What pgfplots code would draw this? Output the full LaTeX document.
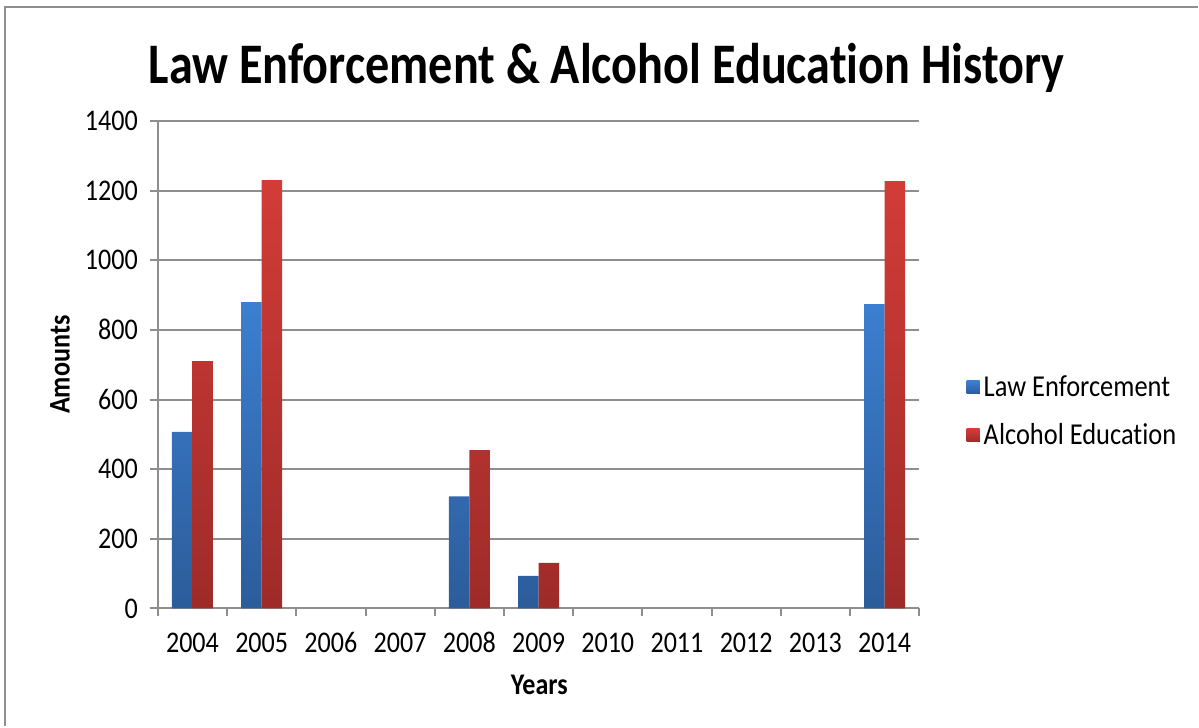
\documentclass[border=0pt]{standalone}
\usepackage{pgfplots}
\pgfplotsset{compat=1.18}
\usepackage{graphicx}
\usepackage{fontspec}
\setmainfont{Carlito}[Ligatures=NoCommon]
\newcommand\sq[1]{\scalebox{0.87}[1]{#1}}
\definecolor{gridc}{HTML}{8E8E8E}
\definecolor{btop}{HTML}{3C7FD0}
\definecolor{bbot}{HTML}{2C5C9A}
\definecolor{rtop}{HTML}{D23C37}
\definecolor{rbot}{HTML}{9E2B29}
\begin{document}
\begin{tikzpicture}
\path (0pt,0pt) rectangle (599.5pt,363.5pt);
\draw[gridc, line width=1pt] (2.5pt,0pt) -- (2.5pt,359.75pt) -- (599.5pt,359.75pt);
\node[anchor=base, font=\bfseries\fontsize{28.7}{34}\selectfont] at (303.5pt,321.5pt) {\scalebox{0.84}[1]{Law Enforcement \& Alcohol Education History}};
\begin{axis}[
  at={(79pt,59pt)}, anchor=south west, scale only axis,
  width=381pt, height=244pt,
  ybar=0pt, bar width=10.25pt,
  xmin=-0.5, xmax=10.5, ymin=0, ymax=1400,
  ytick={0,200,...,1400},
  xtick={-0.5,0.5,...,10.5}, xticklabels={},
  extra x ticks={0,1,...,10},
  extra x tick labels={\sq{2004},\sq{2005},\sq{2006},\sq{2007},\sq{2008},\sq{2009},\sq{2010},\sq{2011},\sq{2012},\sq{2013},\sq{2014}},
  extra x tick style={major tick length=0pt, grid=none, xticklabel style={text height=10pt, text depth=0pt, anchor=north, yshift=-8.5pt}},
  ymajorgrids, grid style={gridc, line width=1pt},
  axis x line*=bottom, axis y line*=left,
  axis line style={gridc, line width=1pt},
  tick style={gridc, line width=1pt},
  major tick length=4pt, tick align=outside,
  /pgf/number format/1000 sep={}, /pgf/number format/assume math mode=true,
  yticklabel={\sq{\pgfmathprintnumber{\tick}}},
  yticklabel style={xshift=-2.5pt},
  ticklabel style={font=\fontsize{15}{18}\selectfont},
  xlabel={\sq{Years}}, ylabel={\sq{Amounts}},
  label style={font=\bfseries\fontsize{15}{18}\selectfont},
  xlabel style={at={(axis description cs:0.501,-0.156)}, anchor=center},
  ylabel style={at={(axis description cs:-0.1286,0.5)}, anchor=center},
  legend style={at={(axis description cs:1.054,0.404)}, anchor=west, draw=none, fill=none,
    font=\fontsize{15.2}{18}\selectfont, row sep=8pt},
  legend cell align=left,
]
\addplot[draw=none, top color=btop, bottom color=bbot,
  legend image code/.code={\fill[top color=btop, bottom color=bbot] (0pt,-3.25pt) rectangle (6.5pt,3.25pt);}]
  coordinates {(0,507) (1,880) (4,322) (5,94) (10,874)};
\addlegendentry{\sq{Law Enforcement}}
\addplot[draw=none, top color=rtop, bottom color=rbot,
  legend image code/.code={\fill[top color=rtop, bottom color=rbot] (0pt,-3.25pt) rectangle (6.5pt,3.25pt);}]
  coordinates {(0,710) (1,1230) (4,455) (5,131) (10,1227)};
\addlegendentry{\sq{Alcohol Education}}
\end{axis}
\end{tikzpicture}
\end{document}
